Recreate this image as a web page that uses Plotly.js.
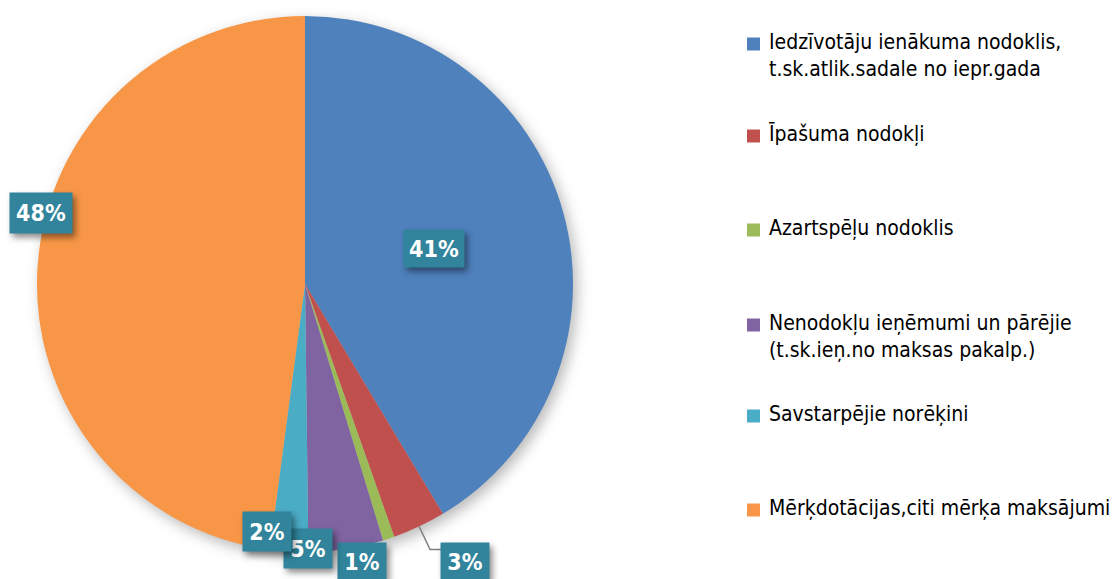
<!DOCTYPE html>
<html>
<head>
<meta charset="utf-8">
<script src="https://cdn.plot.ly/plotly-3.0.1.min.js"></script>
<style>
html,body{margin:0;padding:0;background:#fff;}
#chart{width:1114px;height:579px;}
.pielayer{filter:drop-shadow(4px 5px 7px rgba(0,0,0,0.28));}
rect.bg[style*="49, 132, 155"]{filter:drop-shadow(3px 4px 3px rgba(0,0,0,0.45));}
</style>
</head>
<body>
<div id="chart"></div>
<script>
// ---- data ----
const categories = [
  "Iedzīvotāju ienākuma nodoklis,<br>t.sk.atlik.sadale no iepr.gada",
  "Īpašuma nodokļi",
  "Azartspēļu nodoklis",
  "Nenodokļu ieņēmumi un pārējie<br>(t.sk.ieņ.no maksas pakalp.)",
  "Savstarpējie norēķini",
  "Mērķdotācijas,citi mērķa maksājumi"
];
const values = [41.4, 3.2, 0.7, 4.5, 2.3, 47.9];
const percentLabels = ["41%", "3%", "1%", "5%", "2%", "48%"];
const colors = ["#4F81BD", "#C0504D", "#9BBB59", "#8064A2", "#4BACC6", "#F79646"];

// ---- layout config ----
const W = 1114, H = 579;
const cx = 305, cy = 284, R = 268;
const FONT = "'DejaVu Sans Condensed', 'DejaVu Sans', sans-serif";
const labelRadius = [0.5, 1, 1, 1, 1, 1];
const labelShift = [[0, 0], [46, 35], [-27, 23], [-38, 0], [-22, -20], [3, -53]];
const labelBox = [[60, 37], [48, 37], [48, 37], [48, 39], [48, 39], [62, 40]];
const legendLineY = [44, 136, 230, 325, 416, 510];
const legendTextX = 768, legendSqX = 747, legendSq = 13;

const px = x => x / W;
const py = y => 1 - y / H;

const total = values.reduce((a, b) => a + b, 0);
let cum = 0;
const annotations = [];
const shapes = [];
values.forEach((v, i) => {
  const mid = (cum + v / 2) / total * 2 * Math.PI;
  cum += v;
  const r = R * labelRadius[i];
  const ex = cx + r * Math.sin(mid);
  const ey = cy - r * Math.cos(mid);
  const lx = ex + labelShift[i][0], ly = ey + labelShift[i][1];
  annotations.push({
    x: px(lx), y: py(ly), xref: "paper", yref: "paper",
    xanchor: "center", yanchor: "middle", showarrow: false,
    text: "<b>" + percentLabels[i] + "</b>",
    font: {family: FONT, size: 23, color: "#ffffff"},
    bgcolor: "#31849B", width: labelBox[i][0], height: labelBox[i][1],
    borderpad: 0
  });
  if (i === 1) {
    // leader line for small slice label
    const bx = lx - labelBox[i][0] / 2;
    const elbowY = ly - 12;
    shapes.push({
      type: "path", xref: "paper", yref: "paper",
      path: `M ${px(ex)} ${py(ey)} L ${px(ex + 11)} ${py(elbowY)} L ${px(bx)} ${py(elbowY)}`,
      line: {color: "#7f7f7f", width: 1.5}
    });
  }
});

// legend (drawn manually to match spacing)
categories.forEach((c, i) => {
  const yc = legendLineY[i];
  shapes.push({
    type: "rect", xref: "paper", yref: "paper",
    x0: px(legendSqX), x1: px(legendSqX + legendSq),
    y0: py(yc - legendSq / 2), y1: py(yc + legendSq / 2),
    fillcolor: colors[i], line: {width: 0}
  });
  annotations.push({
    x: px(legendTextX), y: py(yc - 15), xref: "paper", yref: "paper",
    xanchor: "left", yanchor: "top", align: "left", showarrow: false,
    text: c, font: {family: FONT, size: 21, color: "#000000"}, borderpad: 0
  });
});

const trace = {
  type: "pie",
  labels: categories,
  values: values,
  sort: false,
  direction: "clockwise",
  rotation: 0,
  marker: {colors: colors, line: {width: 0}},
  textinfo: "none",
  hoverinfo: "label+percent",
  domain: {x: [px(cx - R), px(cx + R)], y: [py(cy + R), py(cy - R)]},
  showlegend: false
};

const layout = {
  width: W, height: H,
  margin: {l: 0, r: 0, t: 0, b: 0},
  paper_bgcolor: "#ffffff",
  showlegend: false,
  annotations: annotations,
  shapes: shapes
};

Plotly.newPlot("chart", [trace], layout, {displayModeBar: false, staticPlot: true});
</script>
</body>
</html>
